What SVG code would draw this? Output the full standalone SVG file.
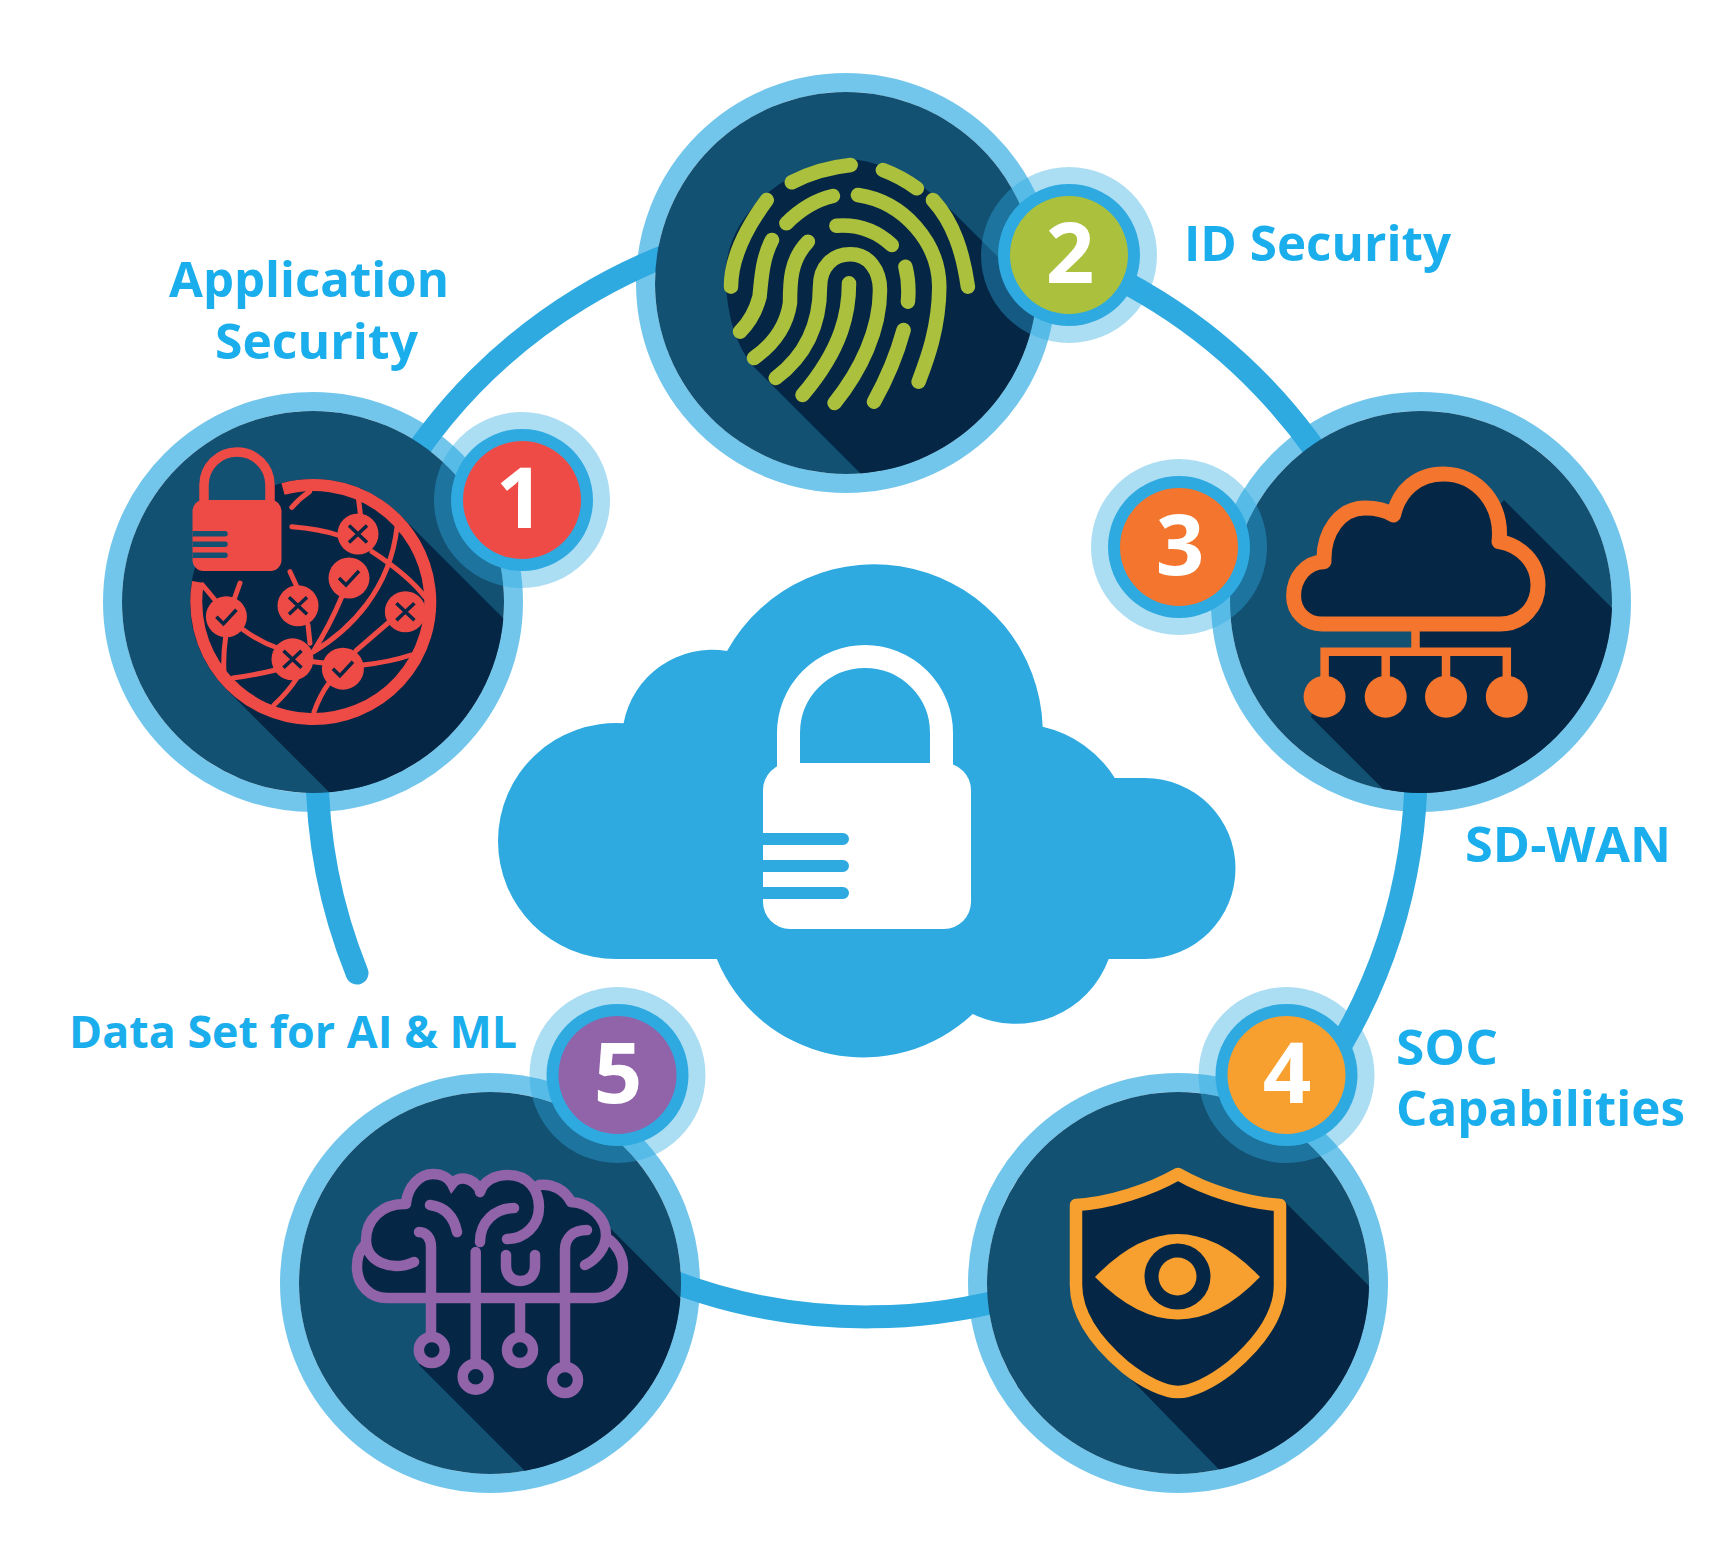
<svg xmlns="http://www.w3.org/2000/svg" width="1736" height="1558" viewBox="0 0 1736 1558">
<style>
.ring{fill:none;stroke:#2eaae1;stroke-width:19;stroke-opacity:.67}
.disc{fill:#135173}
.dark{fill:#052644}
.halo{fill:#2eaae1;fill-opacity:.4}
.bring{fill:#2eaae1}
.num{font-family:"Open Sans","Liberation Sans",sans-serif;font-weight:700;font-size:85px;fill:#fff;text-anchor:middle}
.lbl{font-family:"Open Sans","Liberation Sans",sans-serif;font-weight:700;font-size:49px;fill:#1baeec}
.link{fill:none;stroke:#2eaae1;stroke-width:23;stroke-linecap:round}
.red{fill:#ee4b47}.rl{fill:none;stroke:#ee4b47;stroke-width:5;stroke-linecap:round}
.mk{fill:none;stroke:#052644;stroke-width:3.5}
.gr{fill:none;stroke:#abc03c;stroke-width:14.5;stroke-linecap:round}
.or{fill:#f3752e}.orl{stroke:#f3752e;stroke-width:8.5;fill:none}
.am{fill:#f7a02f}
.pu{fill:none;stroke:#9163a9;stroke-width:10.5;stroke-linecap:round}
.pc{fill:#052644;stroke:#9163a9;stroke-width:10.5}
</style>
<defs>
<clipPath id="c1"><circle cx="313" cy="602" r="191"/></clipPath>
<clipPath id="c2"><circle cx="846" cy="283" r="191"/></clipPath>
<clipPath id="c3"><circle cx="1421" cy="602" r="191"/></clipPath>
<clipPath id="c4"><circle cx="1178" cy="1283" r="191"/></clipPath>
<clipPath id="c5"><circle cx="490" cy="1283" r="191"/></clipPath>
<g id="x"><path class="mk" d="M-9 -8.500L9 8.500M9 -8.500L-9 8.500"/></g>
<g id="v"><path class="mk" d="M-10 0L-3 7L10 -7"/></g>
</defs>
<rect width="1736" height="1558" fill="#fff"/>
<g id="connectors"><path class="link" d="M357 973A549.500 549.500 0 1 1 640 1268"/></g>
<g id="center">
<path fill="#2eaae1" d="M616 959A118 118 0 0 1 498 841A118 118 0 0 1 623.600 723.250A90 90 0 0 1 727 651A168.500 168.500 0 0 1 1042.700 726.700A115 115 0 0 1 1114.800 778H1145A90.500 90.500 0 0 1 1145 959H1108.700A99 99 0 0 1 972.700 1014A158.700 158.700 0 0 1 716.800 959Z"/>
<path fill="none" stroke="#fff" stroke-width="23" d="M788.500 775V733A76.500 76.500 0 0 1 941.500 733V775"/>
<rect x="763" y="763" width="208" height="166" rx="27" fill="#fff"/>
<path fill="#2eaae1" d="M763 833H843a6 6 0 0 1 0 12H763ZM763 860H843a6 6 0 0 1 0 12H763ZM763 887H843a6 6 0 0 1 0 12H763Z"/>
</g>
<g id="node-1">
<circle class="ring" cx="313" cy="602" r="200.500"/><circle class="disc" cx="313" cy="602" r="191"/>
<g clip-path="url(#c1)"><circle class="dark" cx="313" cy="602" r="123"/><path class="dark" d="M400 515L700 815L526 989L226 689Z"/></g>
<path fill="#135173" d="M205 510V480A37 37 0 0 1 270 480V510Z"/>
<path fill="none" stroke="#ee4b47" stroke-width="9.500" d="M204 510V485A33 33 0 0 1 270 485V510"/>
<rect class="red" x="192.500" y="500" width="89" height="71" rx="11"/>
<path fill="#135173" d="M192.500 531H225a2.700 2.700 0 0 1 0 5.500H192.500ZM192.500 541.500H225a2.700 2.700 0 0 1 0 5.500H192.500ZM192.500 552.500H225a2.700 2.700 0 0 1 0 5.500H192.500Z"/>
<path fill="none" stroke="#ee4b47" stroke-width="12" d="M283 489A117 117 0 1 1 198 582"/>
<path class="rl" d="M309.600 491.700Q300 498 291.800 507.300M358.600 500L360.400 514M291.800 526.700Q320 529 337.500 535M372 551.700Q408 575 425 597M397 527C390 590 350 630 313 652M341.800 596.700Q330 625 313 652M388 623L356 650.700M363 665Q390 662 411 655M313 661.700L324 663M308 625L310 643.300M290 571.700L296.400 585.700M202.500 585L215 600M240 583L234.600 598M243.600 630Q260 642 277.500 648M225.700 636.700Q223 655 224 673M233 678Q255 675 275.700 670M297 678Q288 692 274 705M329 683Q320 695 314 712"/>
<circle class="red" cx="358" cy="534" r="20.500"/><use href="#x" x="358" y="534"/>
<circle class="red" cx="349" cy="578" r="20.500"/><use href="#v" x="349" y="578"/>
<circle class="red" cx="298" cy="605.700" r="20.500"/><use href="#x" x="298" y="605.700"/>
<circle class="red" cx="226.400" cy="616.700" r="20.500"/><use href="#v" x="226.400" y="616.700"/>
<circle class="red" cx="405.400" cy="611.700" r="20.500"/><use href="#x" x="405.400" y="611.700"/>
<circle class="red" cx="292.500" cy="659.300" r="21"/><use href="#x" x="292.500" y="659.300"/>
<circle class="red" cx="342.900" cy="668.700" r="21"/><use href="#v" x="342.900" y="668.700"/>
<circle class="halo" cx="522" cy="500" r="88"/><circle class="bring" cx="522" cy="500" r="71"/><circle class="red" cx="522" cy="500" r="59"/>
<text class="num" x="520" y="528">1</text>
<text class="lbl" x="169" y="297" textLength="280" lengthAdjust="spacingAndGlyphs">Application</text>
<text class="lbl" x="215" y="359" textLength="203" lengthAdjust="spacingAndGlyphs">Security</text>
</g>
<g id="node-2">
<circle class="ring" cx="846" cy="283" r="200.500"/><circle class="disc" cx="846" cy="283" r="191"/>
<path class="dark" clip-path="url(#c2)" d="M754 367C735 345 725 310 726 270C727 240 745 205 786 180C810 165 835 158 851 159C890 163 925 185 954 213L1254 513L1054 667Z"/>
<path class="gr" d="M791.800 182.300Q818.600 168.300 850.700 165M882.900 170Q900.700 176.700 916.800 188.300M766.800 200C747 226.700 731 256.700 731 286.700M832.900 196Q807.900 201.700 786.400 223.300M857.900 195C904 201.700 939 243 939.300 286.700C939 330 925.700 363 918.600 381.700M932.900 200C954 223 963 253 967.900 286.700M836.400 225.700Q868.600 223.300 891.800 245M772 240C763 256.700 761.400 276.700 759.600 296.700Q754 318 740 331.700M807.900 241.700C790 260 790 283 790 303C786 330 770 346.700 754 358M775.700 378C804 356.700 820 326.700 820 286.700C820 266.700 833 254 850.700 254.300C868.600 254.300 880 270 880 290C880 330 861 370 834.600 403M849 283.300C849 310 843.600 346.700 802.500 395M905.400 266.700Q909.600 283 907.900 301.700M903.600 330Q893.600 366.700 874 401.700"/>
<circle class="halo" cx="1069" cy="255" r="88"/><circle class="bring" cx="1069" cy="255" r="71"/><circle fill="#abc03c" cx="1069" cy="255" r="59"/>
<text class="num" x="1070" y="283">2</text>
<text class="lbl" x="1184" y="261" textLength="267" lengthAdjust="spacingAndGlyphs">ID Security</text>
</g>
<g id="node-3">
<circle class="ring" cx="1421" cy="602" r="200.500"/><circle class="disc" cx="1421" cy="602" r="191"/>
<path class="dark" clip-path="url(#c3)" d="M1504 500L1804 800L1611 1017L1311 717L1328 656H1416V600Z"/>
<path class="dark" stroke="#f3752e" stroke-width="15" stroke-linejoin="round" d="M1322 624H1500C1523 624 1538 606 1538 585C1538 562 1520 545 1499 541.700C1503 505 1478 474 1443.600 474C1418 474 1399 490 1393.600 515C1387 511 1376 508 1365 508C1340 508 1323 532 1324 561.700C1306 562 1293.600 578 1293.600 596C1293.600 612 1306 624 1322 624Z"/>
<path class="orl" d="M1415.500 630V652M1324.600 680V651.700H1506.800V680M1385.700 652V680M1446 652V680"/>
<circle class="or" cx="1324.600" cy="696.700" r="21"/><circle class="or" cx="1385.700" cy="696.700" r="21"/><circle class="or" cx="1446" cy="696.700" r="21"/><circle class="or" cx="1506.800" cy="696.700" r="21"/>
<circle class="halo" cx="1179" cy="547" r="88"/><circle class="bring" cx="1179" cy="547" r="71"/><circle class="or" cx="1179" cy="547" r="59"/>
<text class="num" x="1180" y="575">3</text>
<text class="lbl" x="1465" y="862" textLength="206" lengthAdjust="spacingAndGlyphs">SD-WAN</text>
</g>
<g id="node-4">
<circle class="ring" cx="1178" cy="1283" r="200.500"/><circle class="disc" cx="1178" cy="1283" r="191"/>
<path class="dark" clip-path="url(#c4)" d="M1286 1203L1586 1503L1427 1683L1127 1375Z"/>
<path class="dark" stroke="#f7a02f" stroke-width="12.500" stroke-linejoin="round" d="M1178 1174C1150 1190 1110 1203 1076 1205V1285C1076 1320 1105 1350 1125 1367C1145 1383 1165 1392 1178 1392C1191 1392 1211 1383 1231 1367C1251 1350 1280 1320 1280 1285V1205C1246 1203 1206 1190 1178 1174Z"/>
<path class="am" d="M1095 1277Q1178 1191 1260 1277Q1178 1362 1095 1277Z"/>
<circle class="dark" cx="1177.500" cy="1276.500" r="33"/><circle class="am" cx="1177.500" cy="1276.500" r="19"/>
<circle class="halo" cx="1286.500" cy="1075" r="88"/><circle class="bring" cx="1286.500" cy="1075" r="71"/><circle class="am" cx="1286.500" cy="1075" r="59"/>
<text class="num" x="1287" y="1103">4</text>
<text class="lbl" x="1396" y="1065" textLength="102" lengthAdjust="spacingAndGlyphs">SOC</text>
<text class="lbl" x="1396" y="1126" textLength="289" lengthAdjust="spacingAndGlyphs">Capabilities</text>
</g>
<g id="node-5">
<circle class="ring" cx="490" cy="1283" r="200.500"/><circle class="disc" cx="490" cy="1283" r="191"/>
<path class="dark" clip-path="url(#c5)" d="M607 1225L907 1525L719 1665L419 1365L431 1340V1298Z"/>
<path class="dark" d="M387 1298H594C612 1298 623 1284 623 1267C623 1255 616 1244 607 1235C606 1218 590 1203 571 1202C565 1190 552 1183 539 1185C530 1175 518 1175 508 1175C496 1175 484 1180 480 1190C472 1176 460 1176 452 1184C449 1178 442 1174 433 1174C420 1174 408 1186 406 1204C382 1203 366 1220 366 1240L364 1246C358 1252 357 1260 357 1267C357 1285 370 1298 387 1298Z"/>
<path class="pu" d="M387 1298H594C612 1298 623 1284 623 1267C623 1255 616 1244 607 1238M571 1202C590 1203 606 1218 606 1235C606 1248 596 1260 585 1265M571 1202C565 1190 552 1183 539 1185M480 1192C484 1180 496 1175 508 1175C528 1175 539 1190 539 1207C539 1226 524 1239 507 1239M406 1203C408 1186 420 1174 433 1174C442 1174 449 1178 452 1184C458 1176 472 1176 480 1190M406 1204C382 1203 366 1220 366 1240C366 1262 392 1272 414 1262M364 1246C358 1252 357 1260 357 1267C357 1285 370 1298 387 1298M430 1205Q452 1208 457 1232M514 1208C495 1208 480 1222 480 1242M506 1255V1266C506 1286 535 1286 535 1266V1255M419 1232C426 1232 431 1238 431 1247V1337M475.700 1252V1364M520 1298V1337M587 1230C573 1230 565 1238 565 1250V1367"/>
<circle class="pc" cx="431.800" cy="1350" r="13"/><circle class="pc" cx="475.700" cy="1376.700" r="13"/><circle class="pc" cx="520" cy="1350" r="13"/><circle class="pc" cx="565" cy="1380" r="13"/>
<circle class="halo" cx="617.500" cy="1075" r="88"/><circle class="bring" cx="617.500" cy="1075" r="71"/><circle fill="#9163a9" cx="617.500" cy="1075" r="59"/>
<text class="num" x="618" y="1103">5</text>
<text class="lbl" x="69" y="1048" textLength="448" lengthAdjust="spacingAndGlyphs" style="font-size:45px">Data Set for AI &amp; ML</text>
</g>
</svg>
